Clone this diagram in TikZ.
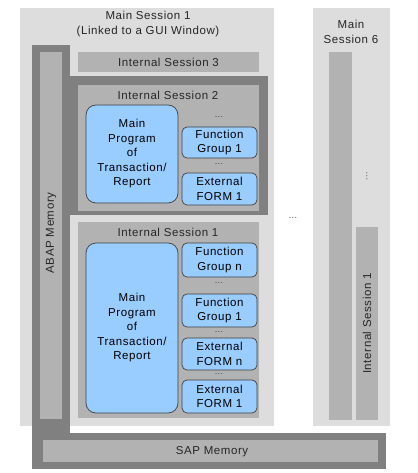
\documentclass[tikz,border=0pt]{standalone}
\usepackage{fontspec}
\setmainfont{Liberation Sans}[LetterSpace=5]
\usepackage{xcolor}
\usepackage{tikz}
\usetikzlibrary{positioning}
\definecolor{sessiongray}{HTML}{DDDDDD}
\definecolor{innergray}{HTML}{B2B2B2}
\definecolor{framegray}{HTML}{808080}
\definecolor{programblue}{HTML}{99CCFF}
\tikzset{
box/.style args = {#1, #2}{ minimum width = #1pt, minimum height = #2pt },
session/.style = { rectangle, draw = none, fill = sessiongray, anchor = north west, inner sep = 0pt, outer sep = 0pt },
frame/.style = { rectangle, draw = none, fill = framegray, anchor = north west, inner sep = 0pt, outer sep = 0pt },
internal/.style = { rectangle, draw = none, fill = innergray, anchor = north west, inner sep = 0pt, outer sep = 0pt },
program/.style = { rectangle, draw = black!75, line width = 0.7pt, fill = programblue, anchor = north west, inner sep = 0pt, outer sep = 0pt, rounded corners = 10pt, align = center },
unit/.style = { rectangle, draw = black!75, line width = 0.7pt, fill = programblue, anchor = north west, inner sep = 0pt, outer sep = 0pt, rounded corners = 5pt, align = center },
label text/.style = { inner sep = 0pt, align = center, text = black!85 },
dots/.style = { inner sep = 0pt, font = \fontsize{9}{9}\selectfont, text = black!75 },
}

\begin{document}
\begin{tikzpicture}[x = 1pt, y = -1pt, every node/.append style = {font = \fontsize{11.5}{14.5}\selectfont}]
      \useasboundingbox (0, 0) rectangle (417, 473);
      % main sessions
      \node[session, box = {254, 418}] (ms1) at (20, 8) {};
      \node[session, box = {77, 418}] (ms6) at (313, 8) {};
      % memory frame
      \node[frame, box = {38, 424}] (abapframe) at (32, 45) {};
      \node[frame, box = {354, 36}] (sapframe) at (32, 433) {};
      \node[frame, box = {198, 139}] (is2frame) at (70, 76) {};
      \node[internal, box = {22, 367}] (abap) at (40, 52) {};
      \node[internal, box = {335, 22}] (sap) at (43, 440) {};
      % internal sessions
      \node[internal, box = {181, 20}] (is3) at (78, 52) {};
      \node[internal, box = {181, 126}] (is2) at (78, 85) {};
      \node[internal, box = {181, 196}] (is1) at (78, 222) {};
      \node[internal, box = {23, 368}] (ms6a) at (329, 52) {};
      \node[internal, box = {22, 193}] (ms6b) at (356, 227) {};
      % programs
      \node[program, box = {92, 98}] (main2) at (86, 105) {Main\\Program\\of\\Transaction/\\Report};
      \node[unit, box = {75, 31}] (fg2) at (182, 127) {Function\\Group 1};
      \node[unit, box = {75, 32}] (ef2) at (182, 173) {External\\FORM 1};
      \node[program, box = {92, 170}] (main1) at (86, 243) {Main\\Program\\of\\Transaction/\\Report};
      \node[unit, box = {75, 34}] (fgn1) at (182, 243) {Function\\Group n};
      \node[unit, box = {75, 33}] (fg1) at (182, 294) {Function\\Group 1};
      \node[unit, box = {75, 32}] (efn1) at (182, 338) {External\\FORM n};
      \node[unit, box = {75, 33}] (ef1) at (182, 380) {External\\FORM 1};
      % labels
      \node[label text] (ms1title) at (148, 24) {Main Session 1\\(Linked to a GUI Window)};
      \node[label text] (ms6title) at (351, 32) {Main\\Session 6};
      \node[label text] (is3title) at (is3.center) {Internal Session 3};
      \node[label text] (is2title) at (168, 95) {Internal Session 2};
      \node[label text] (is1title) at (168, 232) {Internal Session 1};
      \node[label text, rotate = 90] (abaptitle) at (51, 233) {ABAP Memory};
      \node[label text] (saptitle) at (212, 452) {SAP Memory};
      \node[label text, rotate = 90] (ms6btitle) at (ms6b.center) {Internal Session 1};
      % dots
      \node[dots] (dots2a) at (219, 117) {...};
      \node[dots] (dots2b) at (219, 164) {...};
      \node[dots] (dots1a) at (219, 283) {...};
      \node[dots] (dots1b) at (219, 332) {...};
      \node[dots] (dots1c) at (219, 374) {...};
      \node[dots] (dotsms) at (293, 218) {...};
      \node[dots, rotate = 90] (dotsms6) at (367, 176) {...};
    \end{tikzpicture}
\end{document}
